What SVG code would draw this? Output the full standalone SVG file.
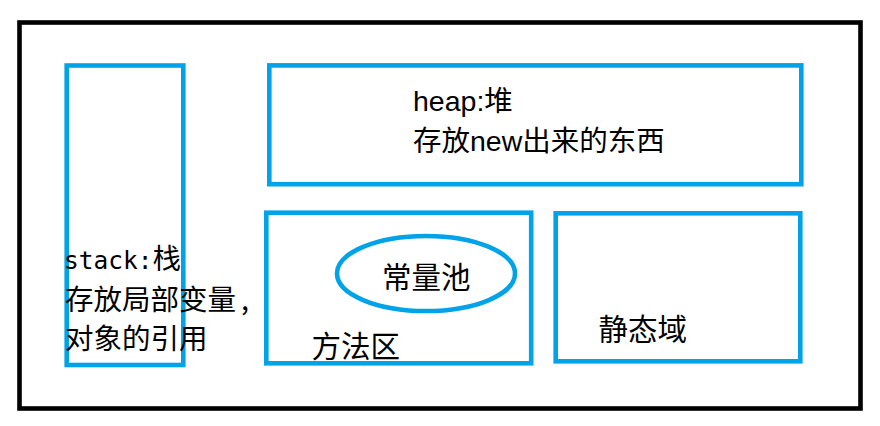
<svg xmlns="http://www.w3.org/2000/svg" width="880" height="426" viewBox="0 0 880 426">
<style>
.box{fill:none;stroke:#00A2E8;stroke-width:4.6}
.frame{fill:none;stroke:#000;stroke-width:4.6}
.t{font-family:"Noto Sans CJK SC","Liberation Sans",sans-serif;font-size:28.5px;fill:#000}
.big{font-size:29.5px}
.lat{font-family:"Liberation Sans",Arial,sans-serif}
.mono{font-family:"DejaVu Sans Mono","Liberation Mono",monospace;font-size:24.5px}
</style>
<rect width="880" height="426" fill="#fff"/>
<g id="frame"><rect class="frame" x="19.5" y="22.5" width="841" height="386"/></g>
<g id="connectors"></g>
<g id="stack">
<rect class="box" x="66.7" y="65.5" width="116.6" height="299.5"/>
<text class="t" x="64" y="268.5"><tspan class="mono">stack:</tspan>栈</text>
<text class="t" x="65" y="309.5">存放局部变量<tspan dx="5">,</tspan></text>
<text class="t" x="65" y="349">对象的引用</text>
</g>
<g id="heap">
<rect class="box" x="269.3" y="65.4" width="532" height="118.8"/>
<text class="t" x="413" y="110.7"><tspan class="lat">heap:</tspan>堆</text>
<text class="t" x="413" y="151"><tspan>存放</tspan><tspan class="lat">new</tspan><tspan>出来的东西</tspan></text>
</g>
<g id="method-area">
<rect class="box" x="266.3" y="212.7" width="264.9" height="150.6"/>
<text class="t big" x="311.5" y="356.5">方法区</text>
</g>
<g id="constant-pool">
<ellipse class="box" cx="426" cy="273.5" rx="89" ry="37.5"/>
<text class="t big" x="382" y="287.5">常量池</text>
</g>
<g id="static-area">
<rect class="box" x="555.7" y="213.3" width="244.6" height="148"/>
<text class="t big" x="598.5" y="340">静态域</text>
</g>
</svg>
